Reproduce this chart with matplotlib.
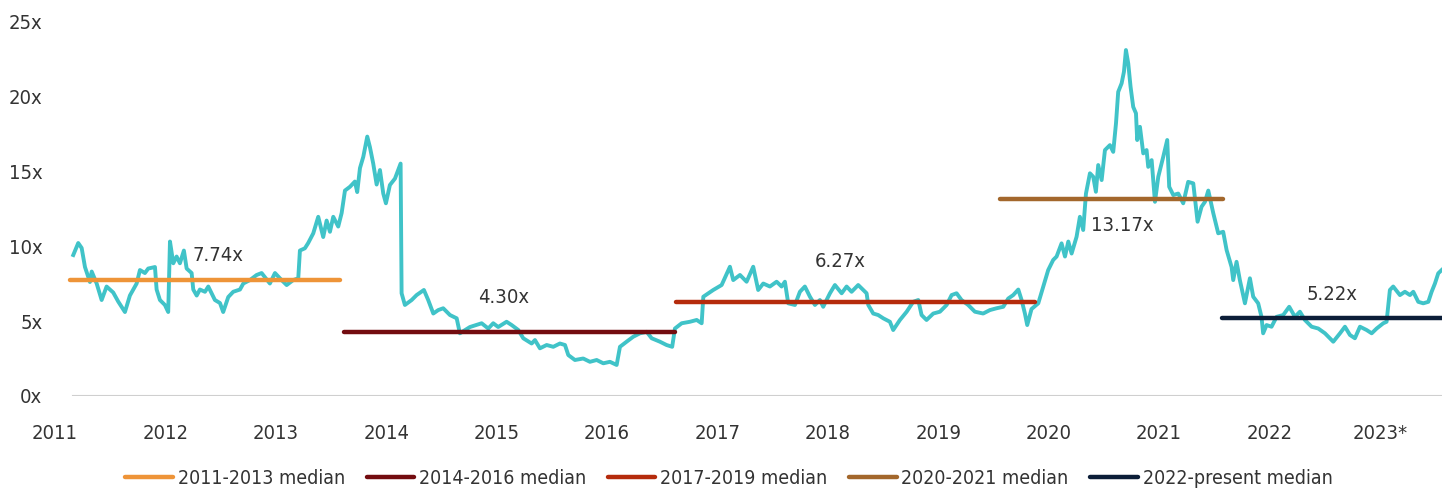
import matplotlib
matplotlib.use("Agg")
import matplotlib.pyplot as plt

plt.rcParams['font.family'] = ['DejaVu Sans']
plt.rcParams['font.stretch'] = 'condensed'

# forward P/E multiple (decimal year, multiple)
dates = [
    2011.166, 2011.211, 2011.242, 2011.272, 2011.317, 2011.333, 2011.378, 2011.423, 2011.468, 2011.528,
    2011.573, 2011.634, 2011.679, 2011.740, 2011.770, 2011.815, 2011.845, 2011.906, 2011.921, 2011.951,
    2011.996, 2012.026, 2012.042, 2012.072, 2012.102, 2012.132, 2012.168, 2012.193, 2012.238, 2012.253,
    2012.284, 2012.313, 2012.359, 2012.389, 2012.449, 2012.495, 2012.524, 2012.570, 2012.615, 2012.676,
    2012.706, 2012.766, 2012.827, 2012.872, 2012.947, 2012.993, 2013.053, 2013.099, 2013.158, 2013.204,
    2013.219, 2013.264, 2013.294, 2013.340, 2013.385, 2013.430, 2013.461, 2013.491, 2013.521, 2013.566,
    2013.597, 2013.627, 2013.672, 2013.717, 2013.738, 2013.763, 2013.793, 2013.829, 2013.853, 2013.883,
    2013.914, 2013.944, 2013.974, 2013.998, 2014.034, 2014.080, 2014.131, 2014.140, 2014.170, 2014.231,
    2014.276, 2014.342, 2014.381, 2014.427, 2014.472, 2014.517, 2014.578, 2014.639, 2014.668, 2014.759,
    2014.865, 2014.925, 2014.970, 2015.015, 2015.091, 2015.137, 2015.197, 2015.242, 2015.318, 2015.348,
    2015.393, 2015.454, 2015.514, 2015.574, 2015.620, 2015.650, 2015.710, 2015.785, 2015.846, 2015.907,
    2015.967, 2016.027, 2016.088, 2016.118, 2016.178, 2016.238, 2016.299, 2016.360, 2016.405, 2016.480,
    2016.540, 2016.591, 2016.616, 2016.677, 2016.752, 2016.813, 2016.858, 2016.873, 2016.963, 2017.039,
    2017.114, 2017.144, 2017.205, 2017.265, 2017.325, 2017.370, 2017.416, 2017.476, 2017.537, 2017.582,
    2017.612, 2017.642, 2017.703, 2017.748, 2017.793, 2017.839, 2017.884, 2017.929, 2017.959, 2018.020,
    2018.065, 2018.126, 2018.171, 2018.216, 2018.276, 2018.322, 2018.352, 2018.367, 2018.412, 2018.457,
    2018.503, 2018.563, 2018.593, 2018.654, 2018.715, 2018.774, 2018.820, 2018.850, 2018.895, 2018.956,
    2019.016, 2019.077, 2019.122, 2019.167, 2019.212, 2019.272, 2019.333, 2019.408, 2019.469, 2019.529,
    2019.590, 2019.635, 2019.680, 2019.726, 2019.756, 2019.786, 2019.807, 2019.846, 2019.907, 2019.952,
    2019.997, 2020.042, 2020.073, 2020.118, 2020.149, 2020.179, 2020.209, 2020.254, 2020.284, 2020.314,
    2020.339, 2020.375, 2020.405, 2020.429, 2020.450, 2020.481, 2020.511, 2020.556, 2020.586, 2020.611,
    2020.631, 2020.662, 2020.683, 2020.701, 2020.722, 2020.743, 2020.767, 2020.792, 2020.803, 2020.828,
    2020.858, 2020.888, 2020.903, 2020.934, 2020.964, 2020.994, 2021.039, 2021.075, 2021.093, 2021.130,
    2021.175, 2021.220, 2021.265, 2021.311, 2021.350, 2021.386, 2021.417, 2021.447, 2021.492, 2021.537,
    2021.582, 2021.613, 2021.658, 2021.673, 2021.703, 2021.733, 2021.779, 2021.824, 2021.854, 2021.899,
    2021.929, 2021.944, 2021.975, 2022.020, 2022.066, 2022.126, 2022.180, 2022.232, 2022.277, 2022.322,
    2022.383, 2022.443, 2022.504, 2022.579, 2022.640, 2022.685, 2022.730, 2022.775, 2022.821, 2022.881,
    2022.927, 2022.972, 2023.032, 2023.062, 2023.092, 2023.122, 2023.183, 2023.228, 2023.274, 2023.304,
    2023.349, 2023.394, 2023.440, 2023.470, 2023.500, 2023.530, 2023.561,
]
multiple = [
    9.4, 10.2, 9.87, 8.6, 7.6, 8.3, 7.5, 6.4, 7.3, 6.9,
    6.3, 5.6, 6.7, 7.5, 8.4, 8.2, 8.5, 8.6, 7.1, 6.4,
    6.07, 5.6, 10.3, 8.85, 9.3, 8.85, 9.7, 8.5, 8.2, 7.1,
    6.7, 7.1, 6.95, 7.3, 6.4, 6.2, 5.6, 6.6, 6.95, 7.1,
    7.5, 7.73, 8.07, 8.2, 7.5, 8.2, 7.73, 7.4, 7.73, 7.85,
    9.7, 9.85, 10.2, 10.85, 11.95, 10.6, 11.7, 10.95, 11.95, 11.3,
    12.2, 13.7, 13.95, 14.3, 13.6, 15.2, 15.95, 17.3, 16.6, 15.5,
    14.1, 15.07, 13.5, 12.85, 14.07, 14.5, 15.5, 6.85, 6.07, 6.4,
    6.73, 7.07, 6.4, 5.5, 5.73, 5.85, 5.4, 5.18, 4.18, 4.6,
    4.85, 4.5, 4.85, 4.6, 4.95, 4.73, 4.4, 3.85, 3.5, 3.73,
    3.18, 3.4, 3.28, 3.5, 3.4, 2.73, 2.4, 2.5, 2.28, 2.4,
    2.18, 2.28, 2.07, 3.28, 3.62, 3.95, 4.18, 4.28, 3.85, 3.62,
    3.4, 3.28, 4.5, 4.85, 4.95, 5.07, 4.85, 6.62, 7.07, 7.4,
    8.62, 7.73, 8.07, 7.62, 8.62, 7.07, 7.5, 7.3, 7.62, 7.3,
    7.62, 6.18, 6.07, 6.95, 7.3, 6.62, 6.07, 6.4, 5.95, 6.85,
    7.4, 6.85, 7.3, 6.95, 7.4, 7.07, 6.85, 6.07, 5.5, 5.4,
    5.18, 4.95, 4.4, 5.07, 5.62, 6.28, 6.4, 5.4, 5.07, 5.5,
    5.62, 6.07, 6.73, 6.85, 6.4, 6.07, 5.62, 5.5, 5.73, 5.85,
    5.95, 6.5, 6.73, 7.1, 6.4, 5.5, 4.73, 5.8, 6.18, 7.3,
    8.4, 9.07, 9.3, 10.18, 9.3, 10.3, 9.5, 10.62, 11.95, 11.07,
    13.5, 14.85, 14.62, 13.62, 15.4, 14.4, 16.4, 16.73, 16.28, 18.18,
    20.28, 20.85, 21.62, 23.07, 22.18, 20.62, 19.28, 18.85, 17.07, 17.95,
    16.18, 16.4, 15.28, 15.73, 12.95, 14.62, 15.95, 17.07, 13.95, 13.4,
    13.5, 12.85, 14.28, 14.18, 11.62, 12.62, 12.95, 13.7, 12.2, 10.85,
    10.95, 9.73, 8.6, 7.73, 8.95, 7.73, 6.18, 7.85, 6.62, 6.18,
    5.28, 4.18, 4.73, 4.62, 5.28, 5.4, 5.95, 5.28, 5.62, 5.07,
    4.62, 4.5, 4.18, 3.62, 4.18, 4.62, 4.07, 3.85, 4.62, 4.4,
    4.18, 4.5, 4.85, 4.95, 7.07, 7.3, 6.73, 6.95, 6.73, 6.95,
    6.28, 6.18, 6.28, 6.95, 7.5, 8.18, 8.4,
]

# period medians: label, value, start, end, colour
median_labels = ['2011-2013 median', '2014-2016 median', '2017-2019 median',
                 '2020-2021 median', '2022-present median']
median_values = [7.74, 4.30, 6.27, 13.17, 5.22]
median_start = [2011.14, 2013.62, 2016.625, 2019.56, 2021.57]
median_end = [2013.58, 2016.616, 2019.877, 2021.58, 2023.564]
median_colors = ['#EE9438', '#730C10', '#B52B0C', '#A3672C', '#0C1E38']

# where the value labels sit (x, y)
label_x = [2012.48, 2015.06, 2018.11, 2020.665, 2022.57]
label_y = [9.35, 6.55, 9.0, 11.4, 6.8]

years = [2011, 2012, 2013, 2014, 2015, 2016, 2017, 2018, 2019, 2020, 2021, 2022, 2023]
year_labels = ['2011', '2012', '2013', '2014', '2015', '2016', '2017', '2018',
               '2019', '2020', '2021', '2022', '2023*']

fig = plt.figure(figsize=(14.42, 4.91), dpi=100)
ax = fig.add_axes([0.0381, 0.1935, 0.9619, 0.7635])

xmax = 2023.564
ax.plot([dates[0], xmax], [0, 0], color='#CFCFCF', lw=1.5, zorder=1)

ax.plot(dates, multiple, color='#40C3C8', lw=2.8, zorder=2, solid_joinstyle='round')

for i in range(len(median_values)):
    ax.plot([median_start[i], median_end[i]], [median_values[i], median_values[i]],
            color=median_colors[i], lw=3.2, solid_capstyle='round', zorder=3,
            label=median_labels[i])
    ax.text(label_x[i], label_y[i], f'{median_values[i]:.2f}x', ha='center', va='center',
            fontsize=14.5, color='#333333')

ax.set_xlim(2011, xmax)
ax.set_ylim(0, 25)
ax.set_yticks([0, 5, 10, 15, 20, 25])
ax.set_yticklabels(['0x', '5x', '10x', '15x', '20x', '25x'])
ax.set_xticks(years)
ax.set_xticklabels(year_labels)
ax.tick_params(axis='both', length=0, labelsize=14.5, labelcolor='#333333')
ax.tick_params(axis='x', pad=20)
ax.tick_params(axis='y', pad=9)
for s in ax.spines.values():
    s.set_visible(False)

fig.legend(loc='lower center', bbox_to_anchor=(0.5055, -0.03), ncol=5, frameon=False,
           fontsize=14, handlelength=2.45, columnspacing=1.1, handletextpad=0.25,
           labelcolor='#333333')

fig.savefig('out.png', dpi=100)
